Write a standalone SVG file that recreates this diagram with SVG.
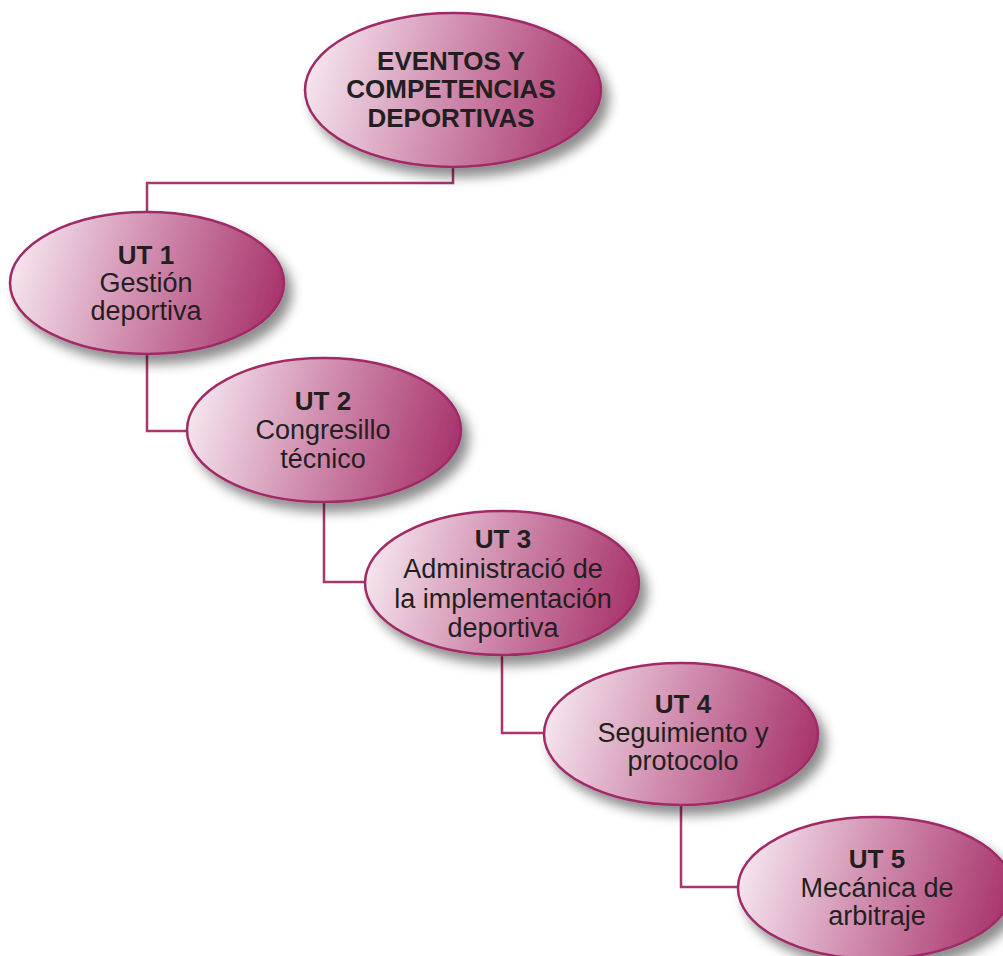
<svg xmlns="http://www.w3.org/2000/svg" width="1003" height="956" viewBox="0 0 1003 956">
<defs>
<linearGradient id="g" x1="0" y1="0.35" x2="1" y2="0.5">
<stop offset="0" stop-color="#f6e8f0"/>
<stop offset="0.45" stop-color="#d393b3"/>
<stop offset="1" stop-color="#a8356d"/>
</linearGradient>
<filter id="sh" x="-20%" y="-20%" width="150%" height="160%">
<feGaussianBlur in="SourceAlpha" stdDeviation="6"/>
<feOffset dx="7" dy="9" result="b"/>
<feFlood flood-color="#000" flood-opacity="0.45"/>
<feComposite in2="b" operator="in" result="s"/>
<feMerge><feMergeNode in="s"/><feMergeNode in="SourceGraphic"/></feMerge>
</filter>
</defs>
<style>
.n{fill:url(#g);stroke:#a02c66;stroke-width:2.5;filter:url(#sh)}
.c{fill:none;stroke:#a8376e;stroke-width:2.5}
text{font-family:"Liberation Sans",Arial,sans-serif;font-size:27px;fill:#231f20;text-anchor:middle}
.b{font-weight:bold;font-size:26px}
</style>
<rect width="1003" height="956" fill="#fff"/>
<g id="connectors">
<polyline class="c" points="453,167 453,183 147,183 147,212"/>
<polyline class="c" points="147,355 147,431 188,431"/>
<polyline class="c" points="324,502 324,582 366,582"/>
<polyline class="c" points="502,655 502,733 546,733"/>
<polyline class="c" points="681,805 681,887 739,887"/>
</g>
<g id="root">
<ellipse class="n" cx="453" cy="90" rx="148" ry="77"/>
<text class="b" x="451" y="70">EVENTOS Y</text>
<text class="b" x="451" y="98">COMPETENCIAS</text>
<text class="b" x="451" y="127">DEPORTIVAS</text>
</g>
<g id="ut1">
<ellipse class="n" cx="147" cy="283" rx="137" ry="71"/>
<text class="b" x="146" y="264">UT 1</text>
<text x="146" y="292">Gestión</text>
<text x="146" y="320">deportiva</text>
</g>
<g id="ut2">
<ellipse class="n" cx="324" cy="430" rx="137" ry="72"/>
<text class="b" x="323" y="410">UT 2</text>
<text x="323" y="439">Congresillo</text>
<text x="323" y="468">técnico</text>
</g>
<g id="ut3">
<ellipse class="n" cx="502" cy="583" rx="137" ry="72"/>
<text class="b" x="503" y="548">UT 3</text>
<text x="503" y="578">Administració de</text>
<text x="503" y="608">la implementación</text>
<text x="503" y="637">deportiva</text>
</g>
<g id="ut4">
<ellipse class="n" cx="681" cy="734" rx="137" ry="71"/>
<text class="b" x="683" y="713">UT 4</text>
<text x="683" y="742">Seguimiento y</text>
<text x="683" y="770">protocolo</text>
</g>
<g id="ut5">
<ellipse class="n" cx="875" cy="888" rx="137" ry="71"/>
<text class="b" x="877" y="868">UT 5</text>
<text x="877" y="897">Mecánica de</text>
<text x="877" y="925">arbitraje</text>
</g>
</svg>
